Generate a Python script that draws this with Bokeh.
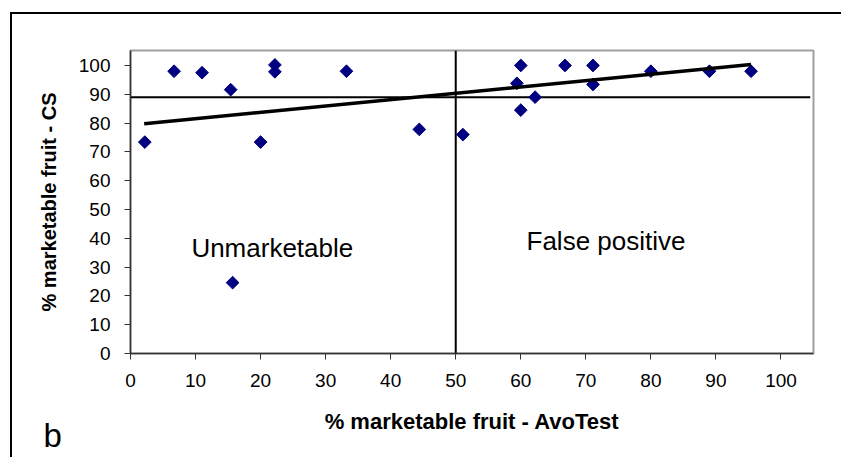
import math
from bokeh.plotting import figure
from bokeh.models import Range1d, FixedTicker, Label, Title, InlineStyleSheet
from bokeh.embed import file_html
from bokeh.resources import INLINE

# data
avotest = [2.2, 6.7, 11.0, 15.4, 15.7, 20.0, 22.2, 22.2, 33.2, 44.4,
           51.1, 59.4, 60.0, 60.0, 62.2, 66.8, 71.1, 71.1, 80.0, 89.0, 95.4]
cs = [73.4, 98.0, 97.5, 91.6, 24.6, 73.4, 100.2, 97.8, 98.0, 77.8,
      76.0, 93.8, 100.0, 84.5, 89.0, 100.0, 100.0, 93.4, 98.0, 98.0, 98.0]
trend_x = [2.1, 95.4]
trend_y = [79.8, 100.3]
threshold_cs = 89.0
threshold_avotest = 50.0
ticks = [0, 10, 20, 30, 40, 50, 60, 70, 80, 90, 100]
region_labels = ["Unmarketable", "False positive"]
region_x = [21.8, 73.1]
region_y = [36.7, 39.2]
panel_letter = "b"
FONT = "Liberation Sans"

p = figure(width=841, height=457, output_backend="svg", toolbar_location=None,
           x_range=Range1d(0, 105), y_range=Range1d(0, 105.2),
           min_border_left=130, min_border_right=28, min_border_top=50,
           min_border_bottom=104)
p.background_fill_color = "white"
p.border_fill_color = "white"
p.grid.visible = False
p.outline_line_color = "#a0a0a0"
p.outline_line_width = 2

for ax in (p.xaxis[0], p.yaxis[0]):
    ax.ticker = FixedTicker(ticks=ticks)
    ax.minor_tick_line_color = None
    ax.major_tick_in = 0
    ax.major_tick_out = 6
    ax.axis_line_color = "#333333"
    ax.axis_line_width = 1.5
    ax.major_tick_line_color = "#333333"
    ax.major_label_text_font = FONT
    ax.major_label_text_font_size = "19px"
    ax.major_label_text_color = "black"
    ax.axis_label_text_font = FONT
    ax.axis_label_text_font_style = "bold"
    ax.axis_label_text_font_size = "22px"
    ax.axis_label_text_color = "black"

p.yaxis.axis_label_text_font_size = "20px"
p.xaxis.axis_label = "% marketable fruit - AvoTest"
p.yaxis.axis_label = "% marketable fruit - CS"
p.xaxis.major_label_standoff = 14
p.yaxis.major_label_standoff = 14
p.xaxis.axis_label_standoff = 19
p.yaxis.axis_label_standoff = 16

# threshold lines
p.line([0, 104.5], [threshold_cs, threshold_cs], line_color="black", line_width=2)
p.line([threshold_avotest, threshold_avotest], [0, 105.2], line_color="black", line_width=2)

# data points
p.scatter(avotest, cs, marker="square", angle=math.pi / 4, size=9,
          fill_color="#000080", line_color="#000080")

# trend line
p.line(trend_x, trend_y, line_color="black", line_width=3.5)

for t, x, y in zip(region_labels, region_x, region_y):
    p.add_layout(Label(x=x, y=y, text=t, text_font=FONT, text_font_size="26px",
                       text_align="center", text_baseline="alphabetic",
                       text_color="black"))

# panel letter
p.add_layout(Title(text=panel_letter, align="left", offset=-87, standoff=-40,
                   vertical_align="top",
                   text_font=FONT, text_font_size="33px", text_font_style="normal",
                   text_color="black"), "below")

# outer frame of the figure panel
p.stylesheets = [InlineStyleSheet(css="""
:host { position: relative; }
:host::after {
  content: ""; position: absolute; left: 10px; top: 12px; right: 0; bottom: 0;
  border-left: 2px solid black; border-top: 2px solid black;
  pointer-events: none;
}
""")]

open("out.html", "w").write(file_html(p, INLINE))
